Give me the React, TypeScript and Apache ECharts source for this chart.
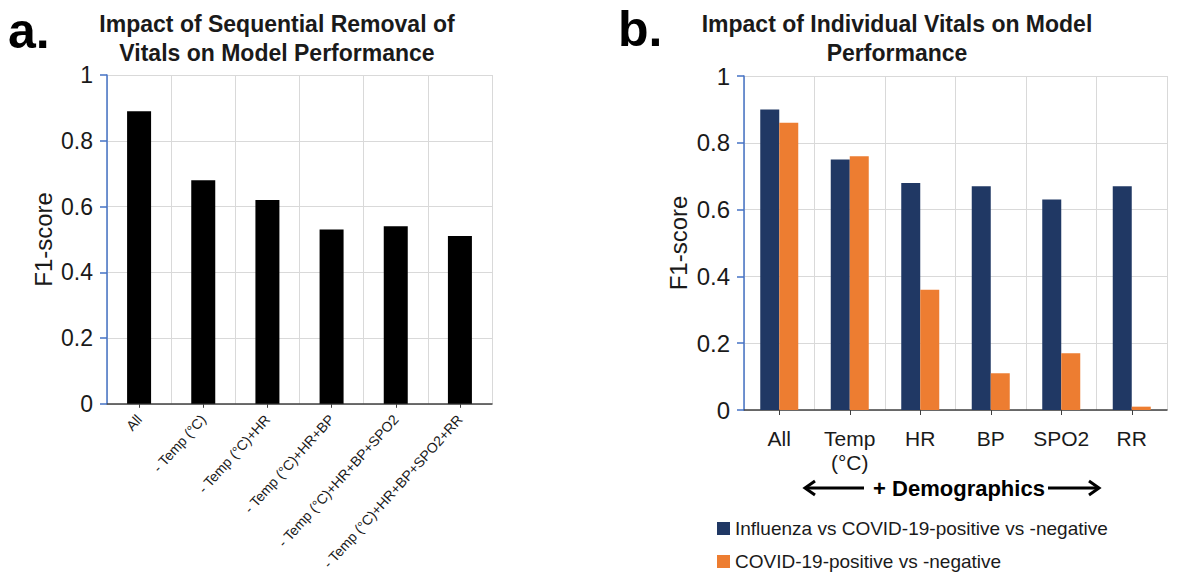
import React, { useEffect, useRef } from "react";
import * as echarts from "echarts";

const catsA = [
  "All",
  "- Temp (°C)",
  "- Temp (°C)+HR",
  "- Temp (°C)+HR+BP",
  "- Temp (°C)+HR+BP+SPO2",
  "- Temp (°C)+HR+BP+SPO2+RR",
];
const valsA = [0.89, 0.68, 0.62, 0.53, 0.54, 0.51];

const catsB = ["All", "Temp\n(°C)", "HR", "BP", "SPO2", "RR"];
const nameB1 = "Influenza vs COVID-19-positive vs -negative";
const nameB2 = "COVID-19-positive vs -negative";
const valsB1 = [0.9, 0.75, 0.68, 0.67, 0.63, 0.67];
const valsB2 = [0.86, 0.76, 0.36, 0.11, 0.17, 0.01];

const yTicks = { min: 0, max: 1, interval: 0.2 };

const FONT = "'Liberation Sans', Arial, sans-serif";
const TXT = "#1a1a1a";
const GRIDC = "#d9d9d9";
const YAXC = "#4472C4";

export default function App() {
  const ref = useRef<HTMLDivElement>(null);
  useEffect(() => {
    if (!ref.current) return;
    const chart = echarts.init(ref.current, undefined, { renderer: "svg" });
    const yAxisBase = (gridIndex: number, fs: number, nameGap: number) => ({
      type: "value",
      gridIndex,
      min: yTicks.min,
      max: yTicks.max,
      interval: yTicks.interval,
      name: "F1-score",
      nameLocation: "middle",
      nameGap,
      nameTextStyle: { fontFamily: FONT, fontSize: 24, color: TXT },
      axisLine: { show: true, lineStyle: { color: YAXC, width: 1.5 } },
      axisTick: { show: true, length: 7, lineStyle: { color: YAXC, width: 1.5 } },
      axisLabel: { fontFamily: FONT, fontSize: fs, color: TXT, margin: 14 },
      splitLine: { show: true, lineStyle: { color: GRIDC, width: 1 } },
    });
    const legendBase = (name: string, top: number) => ({
      data: [name],
      left: 712,
      top,
      icon: "rect",
      itemWidth: 13,
      itemHeight: 13,
      itemGap: 6,
      textStyle: { fontFamily: FONT, fontSize: 19, color: TXT },
    });
    const option: any = {
      animation: false,
      backgroundColor: "#ffffff",
      textStyle: { fontFamily: FONT },
      title: [
        {
          text: "Impact of Sequential Removal of\nVitals on Model Performance",
          left: 272,
          top: 4,
          textAlign: "center",
          textStyle: { fontFamily: FONT, fontSize: 23, fontWeight: "bold", color: TXT, lineHeight: 29 },
        },
        {
          text: "Impact of Individual Vitals on Model\nPerformance",
          left: 892,
          top: 4,
          textAlign: "center",
          textStyle: { fontFamily: FONT, fontSize: 23, fontWeight: "bold", color: TXT, lineHeight: 29 },
        },
      ],
      legend: [legendBase(nameB1, 514), legendBase(nameB2, 547)],
      grid: [
        { left: 107, top: 75, width: 385, height: 330, containLabel: false },
        { left: 744, top: 76, width: 423, height: 334, containLabel: false },
      ],
      xAxis: [
        {
          type: "category",
          gridIndex: 0,
          data: catsA,
          axisLine: { lineStyle: { color: "#404040", width: 1.5 } },
          axisTick: { show: true, alignWithLabel: true, length: 4, lineStyle: { color: "#404040" } },
          axisLabel: { rotate: 48, fontFamily: FONT, fontSize: 14, color: TXT, margin: 13, interval: 0 },
          splitLine: { show: true, lineStyle: { color: GRIDC, width: 1 } },
        },
        {
          type: "category",
          gridIndex: 1,
          data: catsB,
          axisLine: { lineStyle: { color: "#404040", width: 1.5 } },
          axisTick: { show: true, alignWithLabel: true, length: 5, lineStyle: { color: "#404040" } },
          axisLabel: { fontFamily: FONT, fontSize: 21, color: TXT, margin: 16, interval: 0, lineHeight: 24 },
          splitLine: { show: true, lineStyle: { color: GRIDC, width: 1 } },
        },
      ],
      yAxis: [yAxisBase(0, 23, 52), yAxisBase(1, 24, 54)],
      series: [
        {
          type: "bar",
          name: "a",
          xAxisIndex: 0,
          yAxisIndex: 0,
          data: valsA,
          barWidth: 24,
          itemStyle: { color: "#000000" },
        },
        {
          type: "bar",
          name: nameB1,
          xAxisIndex: 1,
          yAxisIndex: 1,
          data: valsB1,
          barWidth: 19,
          barGap: "0%",
          itemStyle: { color: "#203864" },
        },
        {
          type: "bar",
          name: nameB2,
          xAxisIndex: 1,
          yAxisIndex: 1,
          data: valsB2,
          barWidth: 19,
          barGap: "0%",
          itemStyle: { color: "#ED7D31" },
        },
      ],
      graphic: [
        {
          type: "text",
          left: 8,
          top: 6,
          style: { text: "a.", fontFamily: FONT, fontSize: 50, fontWeight: "bold", fill: "#000" },
        },
        {
          type: "text",
          left: 618,
          top: 4,
          style: { text: "b.", fontFamily: FONT, fontSize: 50, fontWeight: "bold", fill: "#000" },
        },
        {
          type: "text",
          x: 959,
          y: 488,
          style: {
            text: "+ Demographics",
            fontFamily: FONT,
            fontSize: 22,
            fontWeight: "bold",
            fill: "#000",
            align: "center",
            verticalAlign: "middle",
          },
        },
        { type: "line", shape: { x1: 805, y1: 488, x2: 864, y2: 488 }, style: { stroke: "#000", lineWidth: 3 } },
        { type: "polyline", shape: { points: [[815, 481], [805, 488], [815, 495]] }, style: { stroke: "#000", lineWidth: 3, fill: null } },
        { type: "line", shape: { x1: 1048, y1: 488, x2: 1099, y2: 488 }, style: { stroke: "#000", lineWidth: 3 } },
        { type: "polyline", shape: { points: [[1089, 481], [1099, 488], [1089, 495]] }, style: { stroke: "#000", lineWidth: 3, fill: null } },
      ],
    };
    chart.setOption(option);
    return () => chart.dispose();
  }, []);
  return (
    <div
      ref={ref}
      style={{ position: "fixed", left: 0, top: 0, width: 1203, height: 573, background: "#fff" }}
    />
  );
}
